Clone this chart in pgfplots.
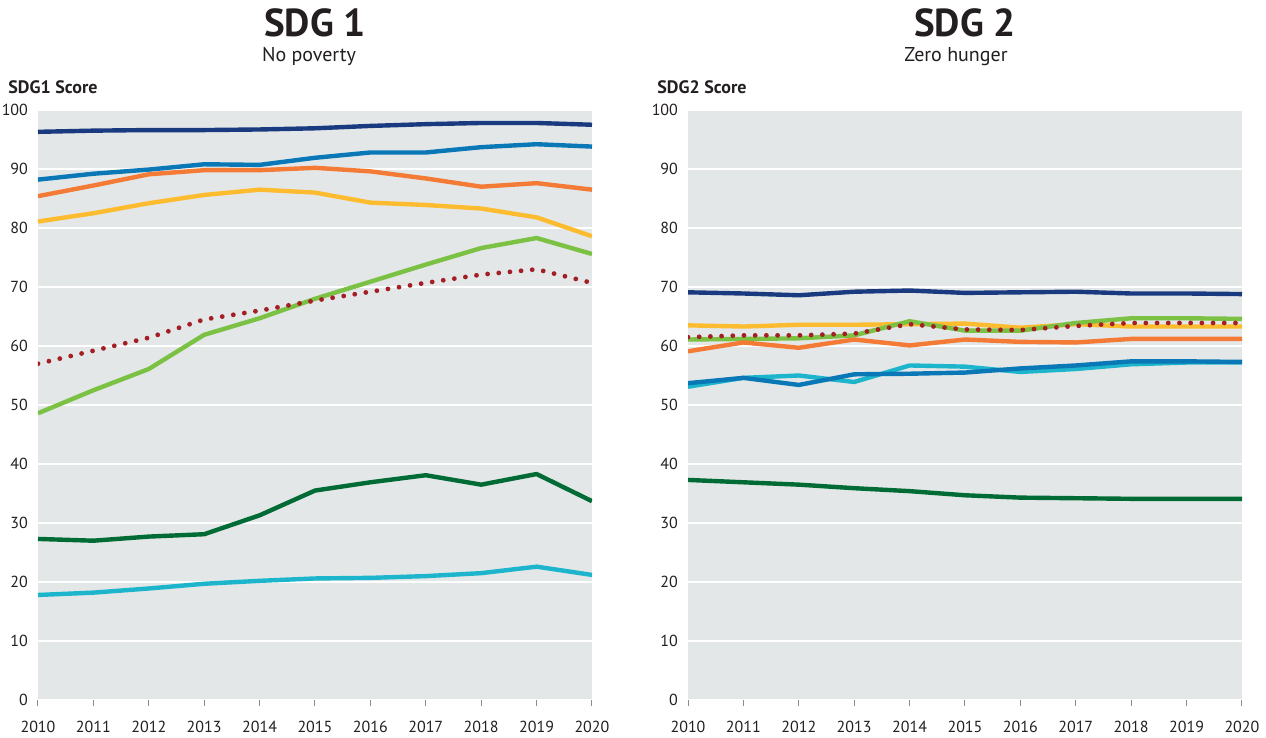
\documentclass[border=0pt]{standalone}
\usepackage{fontspec}
\setmainfont{PT Sans}
\usepackage{pgfplots}
\pgfplotsset{compat=1.18}

\definecolor{bg}{HTML}{E3E7E8}
\definecolor{navy}{HTML}{1A3A80}
\definecolor{midblue}{HTML}{0A78B6}
\definecolor{orng}{HTML}{F47B36}
\definecolor{yell}{HTML}{FDBC30}
\definecolor{lgreen}{HTML}{7BC143}
\definecolor{dgreen}{HTML}{006B35}
\definecolor{cyanl}{HTML}{1CB5CC}
\definecolor{dred}{HTML}{A31F24}
\definecolor{txt}{HTML}{231F20}

\pgfplotsset{
  sdg/.style={
    width=277pt, height=295pt, scale only axis,
    xmin=2010, xmax=2020, ymin=0, ymax=100,
    xtick={2010,...,2020}, ytick={0,10,...,100},
    axis background/.style={fill=bg},
    axis line style={draw=none},
    ymajorgrids, grid style={white, line width=0.9pt},
    xtick pos=bottom, ytick pos=left,
    y tick style={draw=none},
    x tick style={black!45, line width=0.5pt},
    tick align=outside, major tick length=3pt,
    tick label style={font=\fontsize{8}{9}\selectfont, text=txt},
    xticklabel style={yshift=-4pt},
    yticklabel style={xshift=1.5pt},
    /pgf/number format/1000 sep={},
    /pgf/number format/assume math mode=true,
    every axis plot/.append style={line width=2.2pt, line join=round},
  },
  dots/.style={dred, line width=2.4pt, line cap=round, dash pattern=on 0pt off 5.6pt},
}

\begin{document}
\begin{tikzpicture}
\useasboundingbox (0,0) rectangle (633pt,-369pt);

% ---- SDG 1 ----
\node[font=\bfseries\fontsize{19.5}{21}\selectfont, text=txt, anchor=base] at (157.5pt,-18.5pt) {SDG 1};
\node[font=\fontsize{10}{11}\selectfont, text=txt, anchor=base] at (154.5pt,-31pt) {No poverty};
\node[font=\bfseries\fontsize{9}{10}\selectfont, text=txt, anchor=base west, inner sep=0pt] at (4pt,-47pt) {SDG1 Score};

\begin{axis}[sdg, at={(19pt,-350pt)}, anchor=south west]
\addplot[navy] coordinates {(2010,96.3)(2011,96.5)(2012,96.6)(2013,96.6)(2014,96.7)(2015,96.9)(2016,97.3)(2017,97.6)(2018,97.8)(2019,97.8)(2020,97.5)};
\addplot[midblue] coordinates {(2010,88.2)(2011,89.2)(2012,89.9)(2013,90.8)(2014,90.7)(2015,91.9)(2016,92.8)(2017,92.8)(2018,93.7)(2019,94.2)(2020,93.8)};
\addplot[orng] coordinates {(2010,85.4)(2011,87.2)(2012,89.1)(2013,89.8)(2014,89.8)(2015,90.2)(2016,89.6)(2017,88.4)(2018,87.0)(2019,87.6)(2020,86.5)};
\addplot[yell] coordinates {(2010,81.1)(2011,82.5)(2012,84.2)(2013,85.6)(2014,86.5)(2015,86.0)(2016,84.3)(2017,83.9)(2018,83.3)(2019,81.8)(2020,78.6)};
\addplot[lgreen] coordinates {(2010,48.6)(2011,52.5)(2012,56.1)(2013,61.9)(2014,64.7)(2015,68.0)(2016,70.9)(2017,73.8)(2018,76.6)(2019,78.3)(2020,75.6)};
\addplot[dots] coordinates {(2010,57.0)(2011,59.2)(2012,61.4)(2013,64.5)(2014,66.0)(2015,67.7)(2016,69.2)(2017,70.7)(2018,72.1)(2019,73.0)(2020,70.7)};
\addplot[dgreen] coordinates {(2010,27.3)(2011,27.0)(2012,27.7)(2013,28.1)(2014,31.3)(2015,35.5)(2016,36.9)(2017,38.1)(2018,36.5)(2019,38.3)(2020,33.7)};
\addplot[cyanl] coordinates {(2010,17.8)(2011,18.2)(2012,18.9)(2013,19.7)(2014,20.2)(2015,20.6)(2016,20.7)(2017,21.0)(2018,21.5)(2019,22.6)(2020,21.2)};
\end{axis}

% ---- SDG 2 ----
\node[font=\bfseries\fontsize{19.5}{21}\selectfont, text=txt, anchor=base] at (482.5pt,-18.5pt) {SDG 2};
\node[font=\fontsize{10}{11}\selectfont, text=txt, anchor=base] at (478pt,-31pt) {Zero hunger};
\node[font=\bfseries\fontsize{9}{10}\selectfont, text=txt, anchor=base west, inner sep=0pt] at (328.5pt,-47pt) {SDG2 Score};

\begin{axis}[sdg, at={(344pt,-350pt)}, anchor=south west]
\addplot[navy] coordinates {(2010,69.1)(2011,68.9)(2012,68.6)(2013,69.2)(2014,69.4)(2015,69.0)(2016,69.1)(2017,69.2)(2018,68.9)(2019,68.9)(2020,68.8)};
\addplot[yell] coordinates {(2010,63.5)(2011,63.3)(2012,63.6)(2013,63.6)(2014,63.7)(2015,63.8)(2016,63.1)(2017,63.7)(2018,63.3)(2019,63.3)(2020,63.3)};
\addplot[lgreen] coordinates {(2010,61.1)(2011,61.2)(2012,61.3)(2013,61.8)(2014,64.2)(2015,62.6)(2016,62.6)(2017,63.9)(2018,64.7)(2019,64.7)(2020,64.6)};
\addplot[orng] coordinates {(2010,59.1)(2011,60.6)(2012,59.7)(2013,61.1)(2014,60.1)(2015,61.1)(2016,60.7)(2017,60.6)(2018,61.2)(2019,61.2)(2020,61.2)};
\addplot[cyanl] coordinates {(2010,53.1)(2011,54.6)(2012,55.0)(2013,53.9)(2014,56.7)(2015,56.5)(2016,55.6)(2017,56.1)(2018,56.9)(2019,57.2)(2020,57.2)};
\addplot[midblue] coordinates {(2010,53.7)(2011,54.6)(2012,53.4)(2013,55.2)(2014,55.3)(2015,55.5)(2016,56.2)(2017,56.7)(2018,57.4)(2019,57.4)(2020,57.3)};
\addplot[dots] coordinates {(2010,61.5)(2011,61.8)(2012,61.8)(2013,62.1)(2014,63.7)(2015,62.8)(2016,62.7)(2017,63.4)(2018,63.9)(2019,63.9)(2020,63.9)};
\addplot[dgreen] coordinates {(2010,37.3)(2011,36.9)(2012,36.5)(2013,35.9)(2014,35.4)(2015,34.7)(2016,34.3)(2017,34.2)(2018,34.1)(2019,34.1)(2020,34.1)};
\end{axis}
\end{tikzpicture}
\end{document}
